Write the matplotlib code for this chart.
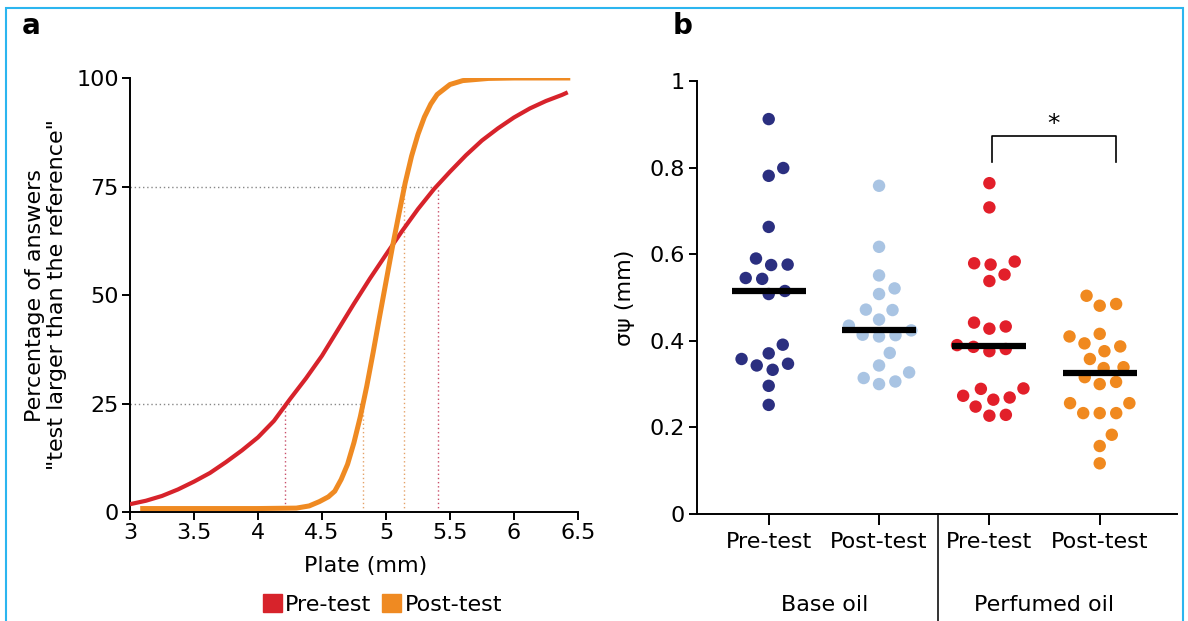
import numpy as np
import matplotlib
matplotlib.use('Agg')
import matplotlib.pyplot as plt
from matplotlib.patches import Patch, Rectangle
import matplotlib.transforms as mtransforms

plt.rcParams['font.family'] = ['DejaVu Sans']

# ---- panel a: psychometric curves ----
pre_x = [3.0, 3.125, 3.25, 3.375, 3.5, 3.625, 3.75, 3.875, 4.0, 4.125, 4.25, 4.375,
         4.5, 4.625, 4.75, 4.875, 5.0, 5.125, 5.25, 5.375, 5.5, 5.625, 5.75, 5.875,
         6.0, 6.125, 6.25, 6.375, 6.42]
pre_y = [1.8, 2.6, 3.7, 5.2, 7.0, 9.0, 11.5, 14.2, 17.2, 21.0, 26.0, 30.8,
         36.0, 42.0, 48.0, 53.8, 59.3, 64.7, 69.8, 74.4, 78.4, 82.2, 85.6, 88.4,
         90.9, 93.0, 94.7, 96.1, 96.7]
post_x = [3.08, 3.5, 4.0, 4.3, 4.4, 4.48, 4.55, 4.6, 4.65, 4.7, 4.75, 4.8, 4.85,
          4.9, 4.95, 5.0, 5.05, 5.1, 5.15, 5.2, 5.25, 5.3, 5.35, 5.4, 5.5, 5.6,
          5.8, 6.0, 6.44]
post_y = [0.8, 0.8, 0.8, 0.9, 1.4, 2.4, 3.5, 4.8, 7.5, 11.0, 16.0, 22.0, 29.0,
          36.8, 45.0, 53.0, 61.0, 68.5, 75.8, 82.0, 87.0, 91.0, 94.0, 96.2, 98.5, 99.4,
          99.9, 100.0, 100.0]
levels = [25, 75]
pre_thresh = [4.21, 5.41]
post_thresh = [4.82, 5.14]

# ---- panel b: sigma psi per subject ----
groups = ['Pre-test', 'Post-test', 'Pre-test', 'Post-test']
group_names = ['Base oil', 'Perfumed oil']
base_pre = [0.912, 0.799, 0.781, 0.663, 0.576, 0.575, 0.590, 0.543, 0.545, 0.508,
            0.515, 0.391, 0.371, 0.347, 0.333, 0.343, 0.358, 0.296, 0.252]
base_post = [0.758, 0.617, 0.551, 0.521, 0.508, 0.472, 0.471, 0.449, 0.435, 0.414,
             0.410, 0.413, 0.424, 0.372, 0.343, 0.327, 0.314, 0.300, 0.306]
perf_pre = [0.764, 0.708, 0.579, 0.576, 0.583, 0.538, 0.553, 0.433, 0.428, 0.442,
            0.386, 0.376, 0.381, 0.390, 0.290, 0.273, 0.269, 0.264, 0.289, 0.248,
            0.227, 0.229]
perf_post = [0.504, 0.481, 0.485, 0.416, 0.410, 0.387, 0.394, 0.376, 0.358, 0.337,
             0.339, 0.316, 0.305, 0.300, 0.256, 0.256, 0.233, 0.233, 0.233, 0.183,
             0.157, 0.117]
series = [base_pre, base_post, perf_pre, perf_post]
dot_colors = ['#2b2f80', '#a9c4e3', '#e21f2a', '#f0891f']

red = '#d7232b'
orange = '#ef8a22'

fig = plt.figure(figsize=(11.88, 6.21), dpi=100)

# outer frame
fig.patches.append(Rectangle((0.005, -0.05), 0.991, 1.037, transform=fig.transFigure,
                             fill=False, edgecolor='#2bb5ef', lw=1.5))

# ================= panel a =================
ax = fig.add_axes([0.1094, 0.1755, 0.3771, 0.6989])
ax.set_xlim(3, 6.5)
ax.set_ylim(0, 100)

for lv, xp, xq in zip(levels, pre_thresh, post_thresh):
    ax.plot([3, max(xp, xq)], [lv, lv], color='#888888', lw=1, ls=(0, (1, 2)), zorder=1)
for xv, lv in zip(pre_thresh, levels):
    ax.plot([xv, xv], [0, lv], color='#c9506a', lw=1, ls=(0, (1, 2)), zorder=1)
for xv, lv in zip(post_thresh, levels):
    ax.plot([xv, xv], [0, lv], color='#e5a268', lw=1, ls=(0, (1, 2)), zorder=1)

ax.plot(pre_x, pre_y, color=red, lw=3.0, solid_capstyle='butt', zorder=3)
ax.plot(post_x, post_y, color=orange, lw=3.6, solid_capstyle='butt', zorder=4)

ax.set_xticks([3, 3.5, 4, 4.5, 5, 5.5, 6, 6.5])
ax.set_xticklabels(['3', '3.5', '4', '4.5', '5', '5.5', '6', '6.5'])
ax.set_yticks([0, 25, 50, 75, 100])
for s in ['top', 'right']:
    ax.spines[s].set_visible(False)
for s in ['left', 'bottom']:
    ax.spines[s].set_linewidth(1.4)
ax.tick_params(labelsize=16, width=1.4, length=6, pad=2)
ax.text(0.525, -0.125, 'Plate (mm)', transform=ax.transAxes, ha='center', va='center',
        fontsize=16)
ax.text(-0.187, 0.5, 'Percentage of answers\n"test larger than the reference"',
        transform=ax.transAxes, rotation=90, ha='center', va='center', fontsize=16,
        linespacing=1.1)

leg = fig.legend(handles=[Patch(color=red, label='Pre-test'),
                          Patch(color=orange, label='Post-test')],
                 loc='center', bbox_to_anchor=(0.322, 0.027), ncol=2, frameon=False,
                 fontsize=16, handlelength=0.85, handleheight=0.85, handletextpad=0.15,
                 columnspacing=0.5)

fig.text(0.018, 0.958, 'a', fontsize=20, fontweight='bold', ha='left', va='center')
fig.text(0.566, 0.958, 'b', fontsize=20, fontweight='bold', ha='left', va='center')

# ================= panel b =================
bx = fig.add_axes([0.5867, 0.1723, 0.404, 0.6973])
bx.set_xlim(-0.65, 3.7)
bx.set_ylim(0, 1)

def swarm(ax, vals, d_px):
    pts = ax.transData.transform(np.column_stack([np.zeros(len(vals)), vals]))
    ypix = pts[:, 1]
    ppu = ax.transData.transform((1, 0))[0] - ax.transData.transform((0, 0))[0]
    placed = []
    offs = np.zeros(len(vals))
    for i in np.argsort(ypix):
        y = ypix[i]
        cands = [0.0]
        for px, py in placed:
            dy = abs(y - py)
            if dy < d_px:
                dx = np.sqrt(d_px ** 2 - dy ** 2)
                cands += [px + dx, px - dx]
        cands.sort(key=abs)
        for c in cands:
            if all((c - px) ** 2 + (y - py) ** 2 >= d_px ** 2 - 1e-6 for px, py in placed):
                offs[i] = c
                placed.append((c, y))
                break
    return offs / ppu

for k, (vals, col) in enumerate(zip(series, dot_colors)):
    off = swarm(bx, vals, 16.5)
    bx.scatter(k + off, vals, s=80, color=col, edgecolors='none', zorder=3)
    med = np.median(vals)
    bx.plot([k - 0.335, k + 0.335], [med, med], color='black', lw=4.5,
            solid_capstyle='butt', zorder=4)

# significance bracket
bx.plot([2.02, 2.02, 3.15, 3.15], [0.813, 0.874, 0.874, 0.813], color='black', lw=1.2)
bx.text(2.585, 0.9, '*', ha='center', va='center', fontsize=18)

bx.set_xticks(range(len(groups)))
bx.set_xticklabels(groups)
bx.set_yticks([0, 0.2, 0.4, 0.6, 0.8, 1])
bx.set_yticklabels(['0', '0.2', '0.4', '0.6', '0.8', '1'])
for s in ['top', 'right']:
    bx.spines[s].set_visible(False)
for s in ['left', 'bottom']:
    bx.spines[s].set_linewidth(1.4)
bx.tick_params(labelsize=16, width=1.4, length=6, pad=3)
bx.tick_params(axis='x', length=8, pad=5)
bx.set_ylabel('σψ (mm)', fontsize=16, labelpad=10)

trans = mtransforms.blended_transform_factory(bx.transData, bx.transAxes)
bx.plot([1.535, 1.535], [0, -0.3], transform=trans, color='#333333', lw=1.4, clip_on=False)
bx.text(0.51, -0.21, group_names[0], transform=trans, ha='center', va='center', fontsize=16)
bx.text(2.5, -0.21, group_names[1], transform=trans, ha='center', va='center', fontsize=16)

fig.savefig('out.png', dpi=100)
